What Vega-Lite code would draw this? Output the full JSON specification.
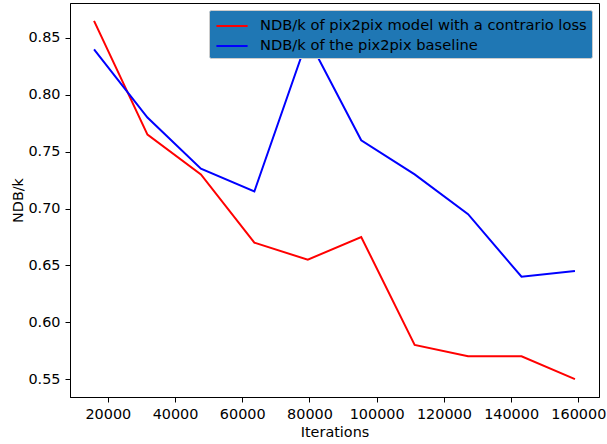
{
  "$schema": "https://vega.github.io/schema/vega-lite/v6.json",
  "width": 529,
  "height": 394,
  "autosize": "none",
  "padding": {"left": 70, "top": 3, "right": 8, "bottom": 47},
  "background": "white",
  "config": {
    "font": "DejaVu Sans",
    "view": {"stroke": "black", "strokeWidth": 1},
    "axis": {
      "grid": false,
      "domainColor": "black",
      "tickColor": "black",
      "tickSize": 5,
      "labelColor": "black",
      "titleColor": "black",
      "labelFontSize": 14.4,
      "titleFontSize": 14.4,
      "titleFontWeight": "normal",
      "labelFont": "DejaVu Sans",
      "titleFont": "DejaVu Sans"
    }
  },
  "data": {
    "values": [
      {"iter": 15900, "value": 0.865, "series": "NDB/k of pix2pix model with a contrario loss"},
      {"iter": 31800, "value": 0.765, "series": "NDB/k of pix2pix model with a contrario loss"},
      {"iter": 47700, "value": 0.73, "series": "NDB/k of pix2pix model with a contrario loss"},
      {"iter": 63600, "value": 0.67, "series": "NDB/k of pix2pix model with a contrario loss"},
      {"iter": 79500, "value": 0.655, "series": "NDB/k of pix2pix model with a contrario loss"},
      {"iter": 95400, "value": 0.675, "series": "NDB/k of pix2pix model with a contrario loss"},
      {"iter": 111300, "value": 0.58, "series": "NDB/k of pix2pix model with a contrario loss"},
      {"iter": 127200, "value": 0.57, "series": "NDB/k of pix2pix model with a contrario loss"},
      {"iter": 143100, "value": 0.57, "series": "NDB/k of pix2pix model with a contrario loss"},
      {"iter": 159000, "value": 0.55, "series": "NDB/k of pix2pix model with a contrario loss"},
      {"iter": 15900, "value": 0.84, "series": "NDB/k of the pix2pix baseline"},
      {"iter": 31800, "value": 0.78, "series": "NDB/k of the pix2pix baseline"},
      {"iter": 47700, "value": 0.735, "series": "NDB/k of the pix2pix baseline"},
      {"iter": 63600, "value": 0.715, "series": "NDB/k of the pix2pix baseline"},
      {"iter": 79500, "value": 0.85, "series": "NDB/k of the pix2pix baseline"},
      {"iter": 95400, "value": 0.76, "series": "NDB/k of the pix2pix baseline"},
      {"iter": 111300, "value": 0.73, "series": "NDB/k of the pix2pix baseline"},
      {"iter": 127200, "value": 0.695, "series": "NDB/k of the pix2pix baseline"},
      {"iter": 143100, "value": 0.64, "series": "NDB/k of the pix2pix baseline"},
      {"iter": 159000, "value": 0.645, "series": "NDB/k of the pix2pix baseline"}
    ]
  },
  "mark": {"type": "line", "strokeWidth": 2, "clip": true},
  "encoding": {
    "x": {
      "field": "iter",
      "type": "quantitative",
      "title": "Iterations",
      "scale": {"domain": [8745, 166155], "nice": false, "zero": false},
      "axis": {"values": [20000, 40000, 60000, 80000, 100000, 120000, 140000, 160000], "format": "d", "titlePadding": 5, "labelPadding": 5}
    },
    "y": {
      "field": "value",
      "type": "quantitative",
      "title": "NDB/k",
      "scale": {"domain": [0.53425, 0.88075], "nice": false, "zero": false},
      "axis": {"values": [0.55, 0.6, 0.65, 0.7, 0.75, 0.8, 0.85], "format": ".2f", "titlePadding": 2, "labelPadding": 5}
    },
    "color": {
      "field": "series",
      "type": "nominal",
      "scale": {
        "domain": ["NDB/k of pix2pix model with a contrario loss", "NDB/k of the pix2pix baseline"],
        "range": ["#ff0000", "#0000ff"]
      },
      "legend": {
        "title": null,
        "orient": "top-right",
        "offset": 7,
        "fillColor": "#1f77b4",
        "strokeColor": "#cccccc",
        "cornerRadius": 2,
        "padding": 5,
        "symbolType": "M-1.6,0H1.6",
        "symbolSize": 380,
        "symbolStrokeWidth": 2,
        "symbolOffset": 7,
        "labelFontSize": 14.7,
        "labelColor": "black",
        "labelLimit": 500,
        "rowPadding": 2,
        "labelOffset": 17
      }
    }
  }
}
